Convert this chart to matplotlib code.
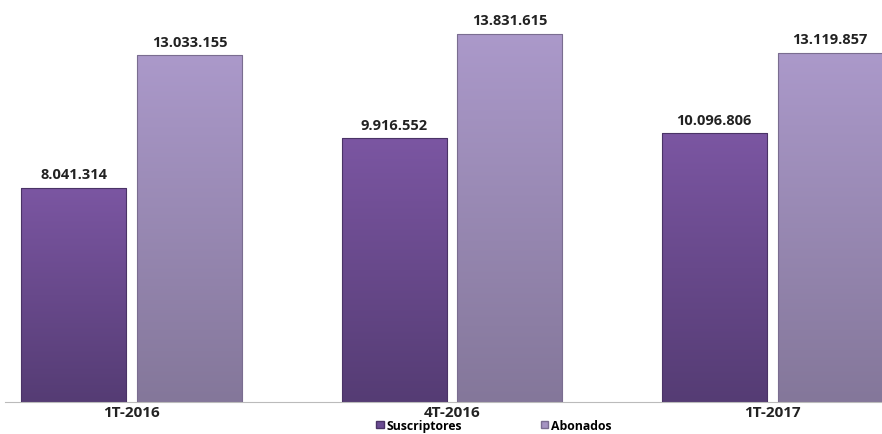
import numpy as np
import matplotlib.pyplot as plt
from matplotlib.patches import Rectangle, Patch
from matplotlib.colors import LinearSegmentedColormap

plt.rcParams['font.family'] = ['Open Sans', 'DejaVu Sans']

periodos = ['1T-2016', '4T-2016', '1T-2017']
suscriptores = [8041314, 9916552, 10096806]
abonados = [13033155, 13831615, 13119857]
etiq_sus = ['8.041.314', '9.916.552', '10.096.806']
etiq_abo = ['13.033.155', '13.831.615', '13.119.857']

fig = plt.figure(figsize=(8.82, 4.35), dpi=100)
ax = fig.add_axes([0.006, 32/435, 0.994, 403/435])

x = np.arange(len(periodos))
w = 0.328
off = 0.181

cm_sus = LinearSegmentedColormap.from_list('s', ['#553c74', '#7b56a2'])
cm_abo = LinearSegmentedColormap.from_list('a', ['#84779a', '#ab99ca'])
grad = np.linspace(0, 1, 256).reshape(-1, 1)

def barra(xc, h, cmap, edge):
    r = Rectangle((xc - w/2, 0), w, h, facecolor='none', edgecolor=edge, lw=0.8, zorder=3)
    ax.add_patch(r)
    im = ax.imshow(grad, cmap=cmap, origin='lower', aspect='auto',
                   extent=[xc - w/2, xc + w/2, 0, h], zorder=2)
    im.set_clip_path(r)

for i in range(len(periodos)):
    barra(x[i] - off, suscriptores[i], cm_sus, '#4a3366')
    barra(x[i] + off, abonados[i], cm_abo, '#7a6d90')
    ax.text(x[i] - off, suscriptores[i] + 250000, etiq_sus[i], ha='center', va='bottom',
            fontsize=10.5, fontweight='bold', color='#222222')
    ax.text(x[i] + off, abonados[i] + 250000, etiq_abo[i], ha='center', va='bottom',
            fontsize=10.5, fontweight='bold', color='#222222')

ax.set_xlim(-0.395, 2.343)
ax.set_ylim(0, 15.15e6)
ax.set_xticks(x)
ax.set_xticklabels(periodos, fontsize=11, fontweight='bold', color='#222222')
ax.tick_params(axis='x', length=0, pad=2)
ax.set_yticks([])
for s in ['top', 'right', 'left']:
    ax.spines[s].set_visible(False)
ax.spines['bottom'].set_color('#bbbbbb')

leg = [Patch(facecolor='#6a4b92', edgecolor='#4a3366', label='Suscriptores'),
       Patch(facecolor='#a593c2', edgecolor='#7a6d90', label='Abonados')]
fig.legend(handles=leg, loc='center', bbox_to_anchor=(0.56, 0.02), ncol=2, frameon=False,
           handlelength=0.6, handleheight=0.6, handletextpad=0.2, columnspacing=6.5,
           prop={'weight': 'bold', 'size': 8.8}, borderpad=0.0)

fig.savefig('out.png', dpi=100)
